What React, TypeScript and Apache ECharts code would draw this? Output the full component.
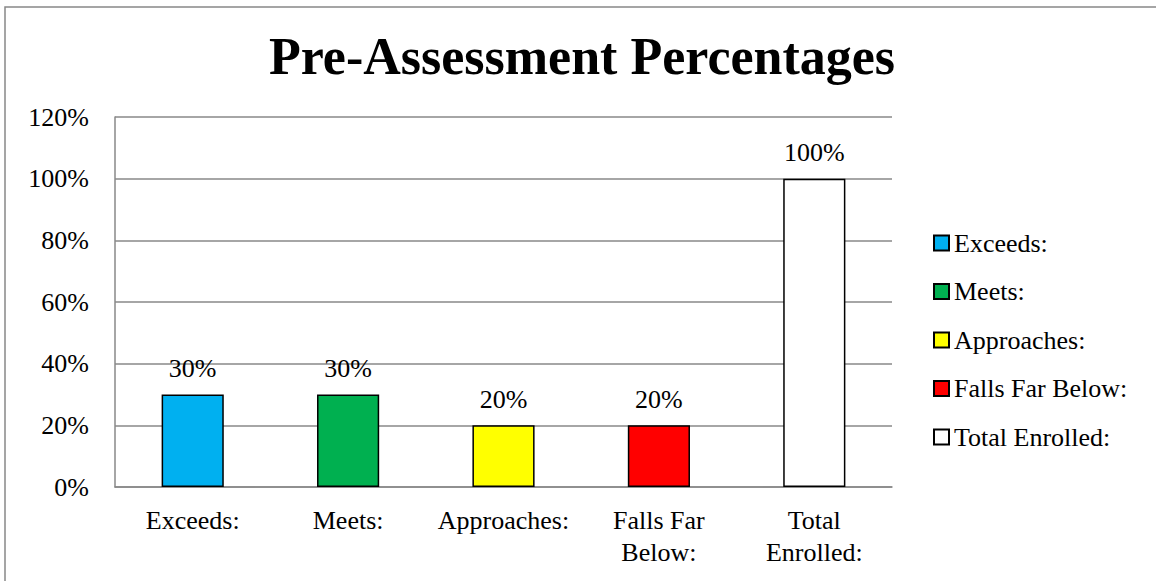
import React, { useEffect, useRef } from "react";
import * as echarts from "echarts";

const categories = ["Exceeds:", "Meets:", "Approaches:", "Falls Far\nBelow:", "Total\nEnrolled:"];
const seriesNames = ["Exceeds:", "Meets:", "Approaches:", "Falls Far Below:", "Total Enrolled:"];
const values = [30, 30, 20, 20, 100];
const colors = ["#00B0F0", "#00B050", "#FFFF00", "#FF0000", "#FFFFFF"];
const yTicks = { min: 0, max: 120, interval: 20 };
const titleText = "Pre-Assessment Percentages";

const FONT = "Liberation Serif";
const FS = 26;

export default function App() {
  const ref = useRef<HTMLDivElement>(null);
  useEffect(() => {
    if (!ref.current) return;
    const chart = echarts.init(ref.current, null, { renderer: "svg" });
    const series = seriesNames.map((name, i) => ({
      name,
      type: "bar",
      stack: "all",
      barWidth: "40%",
      data: categories.map((_, j) => (j === i ? values[i] : "-")),
      itemStyle: { color: colors[i], borderColor: "#000", borderWidth: 1.5 },
      label: {
        show: true,
        position: "top",
        distance: 13,
        formatter: "{c}%",
        color: "#000",
        fontFamily: FONT,
        fontSize: FS,
      },
    }));
    chart.setOption({
      animation: false,
      backgroundColor: "#fff",
      title: {
        text: titleText,
        left: 577,
        textAlign: "center",
        top: 25,
        textStyle: { fontFamily: FONT, fontWeight: "bold", fontSize: 52, color: "#000" },
      },
      graphic: [
        {
          type: "rect",
          shape: { x: 5, y: 7, width: 1170, height: 600 },
          style: { fill: "none", stroke: "#888", lineWidth: 1.5 },
          silent: true,
        },
      ],
      grid: { left: 115, right: 264, top: 117, bottom: 94, containLabel: false },
      legend: {
        orient: "vertical",
        left: 928,
        top: 225,
        itemWidth: 15,
        itemHeight: 15,
        itemGap: 22.5,
        icon: "rect",
        textStyle: { fontFamily: FONT, fontSize: FS, color: "#000" },
        data: seriesNames,
      },
      xAxis: {
        type: "category",
        data: categories,
        axisLine: { show: true, lineStyle: { color: "#888", width: 1.5 } },
        axisTick: { show: false },
        axisLabel: {
          margin: 17,
          color: "#000",
          fontFamily: FONT,
          fontSize: FS,
          lineHeight: 32,
          interval: 0,
        },
      },
      yAxis: {
        type: "value",
        min: yTicks.min,
        max: yTicks.max,
        interval: yTicks.interval,
        axisLine: { show: true, lineStyle: { color: "#888", width: 1.5 } },
        axisTick: { show: false },
        splitLine: { show: true, lineStyle: { color: "#888", width: 1.5 } },
        axisLabel: {
          formatter: "{value}%",
          margin: 26,
          color: "#000",
          fontFamily: FONT,
          fontSize: FS,
        },
      },
      series,
    });
    return () => chart.dispose();
  }, []);
  return (
    <div
      ref={ref}
      style={{ position: "fixed", left: 0, top: 0, width: 1156, height: 581 }}
    />
  );
}
